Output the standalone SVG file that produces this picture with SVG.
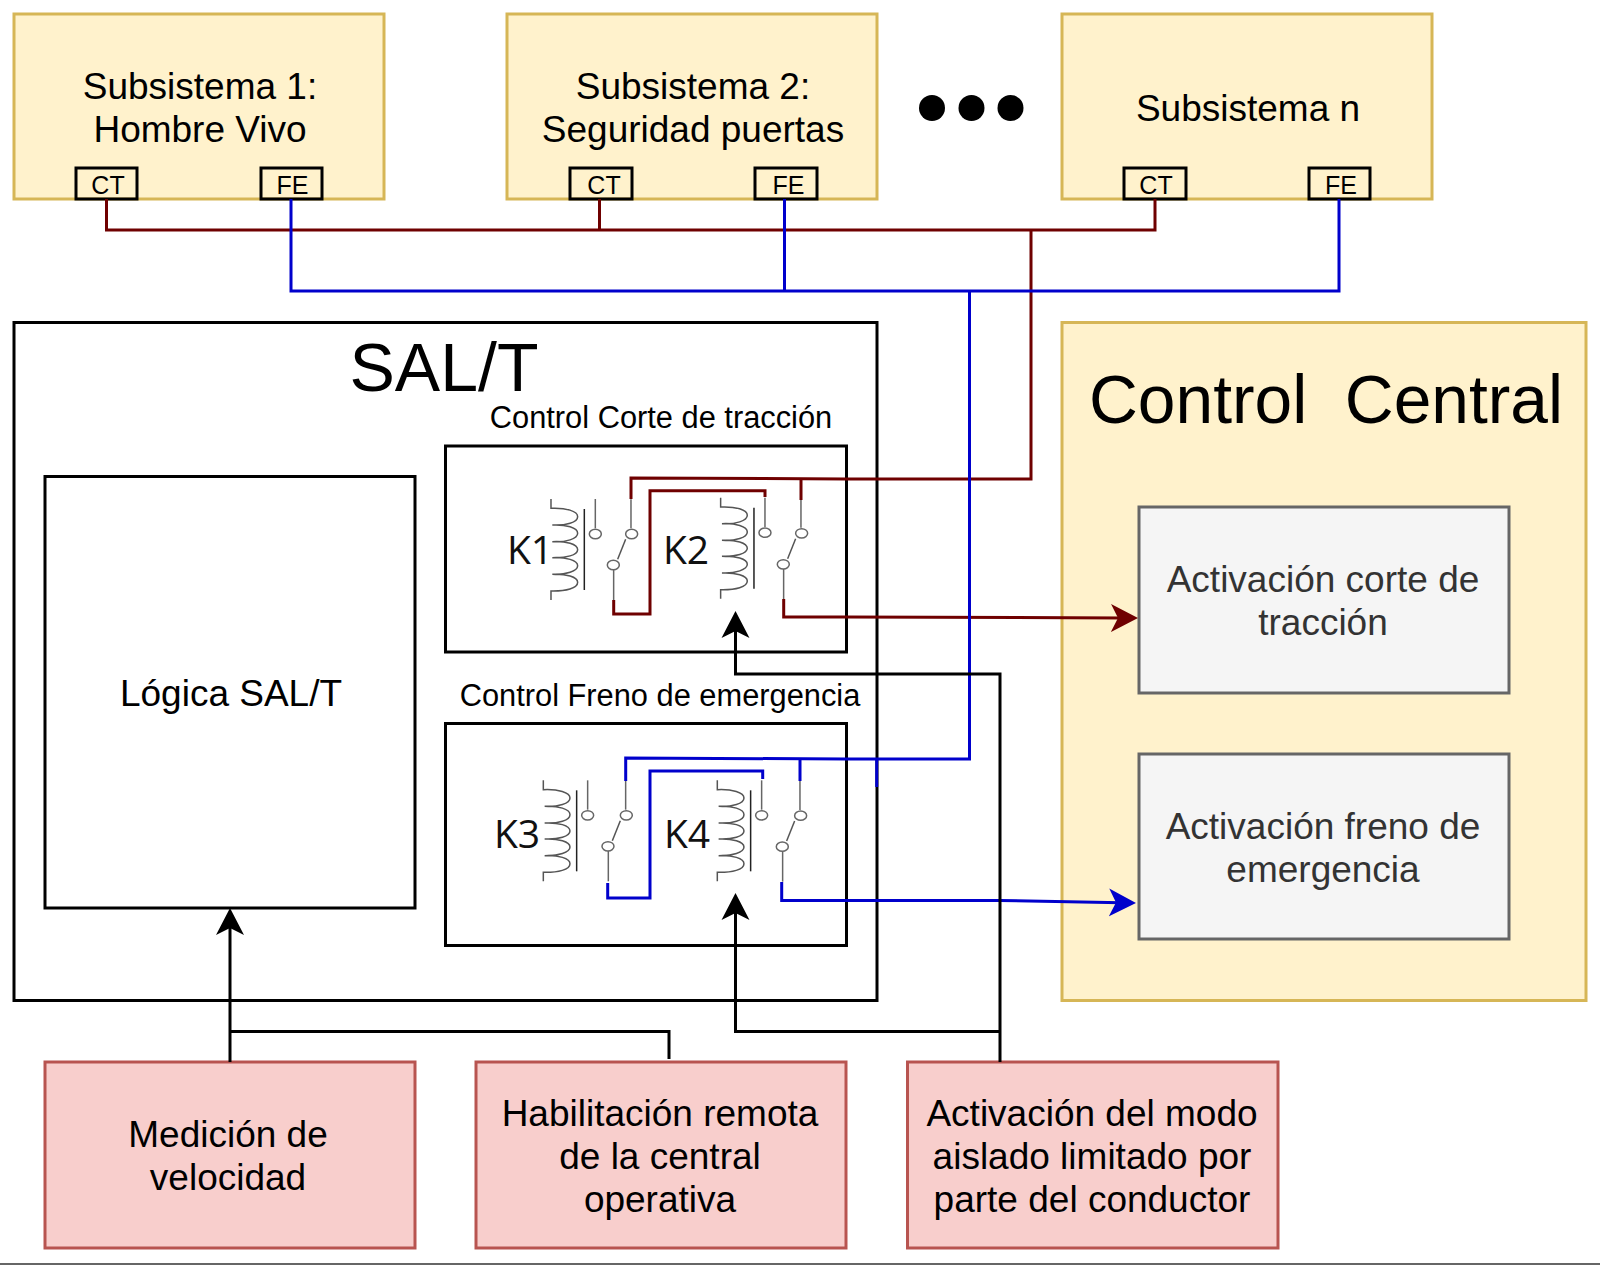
<svg xmlns="http://www.w3.org/2000/svg" xmlns:xlink="http://www.w3.org/1999/xlink" width="1600" height="1265" viewBox="0 0 1600 1265">
<style>
text{font-family:"Liberation Sans",Arial,sans-serif;text-anchor:middle;fill:#000}
.t{font-size:37px}
.s{font-size:30.800px}
.p{font-size:25px}
.g{fill:#333}
.y{fill:#fff2cc;stroke:#d6b656;stroke-width:3}
.r{fill:#f8cecc;stroke:#b85450;stroke-width:3}
.h{fill:#f5f5f5;stroke:#666;stroke-width:3}
.b{fill:#fff;stroke:#000;stroke-width:3}
.pt{fill:none;stroke:#000;stroke-width:3}
.w{fill:none;stroke-width:3;stroke-linejoin:miter}
.dr{stroke:#6f0000}
.bl{stroke:#0000cc}
.k{stroke:#000}
.sym{fill:none;stroke:#666;stroke-width:4.500}
.kl{font-family:"Open Sans","Noto Sans",sans-serif;font-size:39px;fill:#111}
</style>
<defs>
<marker id="ak" markerUnits="userSpaceOnUse" markerWidth="28" markerHeight="30" refX="12" refY="14" orient="auto" viewBox="0 0 28 28"><path d="M27 14L0 0L7 14L0 28Z" fill="#000"/></marker>
<marker id="ar" markerUnits="userSpaceOnUse" markerWidth="28" markerHeight="30" refX="12" refY="14" orient="auto" viewBox="0 0 28 28"><path d="M27 14L0 0L7 14L0 28Z" fill="#6f0000"/></marker>
<marker id="ab" markerUnits="userSpaceOnUse" markerWidth="28" markerHeight="30" refX="12" refY="14" orient="auto" viewBox="0 0 28 28"><path d="M27 14L0 0L7 14L0 28Z" fill="#0000cc"/></marker>
<g id="coil" class="sym">
<path d="M0 0V28C45 26 80 36 80 53C80 70 45 80 4 78C45 76 80 86 80 103C80 120 45 130 4 128C45 126 80 135 80 152C80 168 45 178 4 176C45 174 80 184 80 200C80 216 45 228 4 226C45 224 80 234 80 250C80 268 45 277 0 276V303" stroke="#555"/>
<path d="M100 30V273" stroke="#222"/>
<path d="M133 0V88"/>
<ellipse cx="133" cy="105" rx="18" ry="14"/>
</g>
<g id="contact" class="sym">
<path d="M0 0V87"/>
<ellipse cx="2" cy="104" rx="18" ry="14"/>
<path d="M-16 120L-40 180" stroke="#555"/>
<ellipse cx="-53" cy="197" rx="18" ry="14"/>
<path d="M-52 211V302"/>
</g>
</defs>
<rect width="1600" height="1265" fill="#fff"/>
<path d="M0 1264H1600" stroke="#666" stroke-width="2"/>

<g id="subsistema1"><rect class="y" x="14" y="14" width="370" height="185"/><text class="t" x="200" y="99">Subsistema 1:</text><text class="t" x="200" y="142">Hombre Vivo</text>
<rect class="pt" x="76" y="168" width="61" height="31"/><text class="p" x="108" y="194">CT</text><rect class="pt" x="261" y="168" width="61" height="31"/><text class="p" x="292.500" y="194">FE</text></g>
<g id="subsistema2"><rect class="y" x="507" y="14" width="370" height="185"/><text class="t" x="693" y="99">Subsistema 2:</text><text class="t" x="693" y="142">Seguridad puertas</text>
<rect class="pt" x="570" y="168" width="62" height="31"/><text class="p" x="604" y="194">CT</text><rect class="pt" x="755" y="168" width="62" height="31"/><text class="p" x="788.500" y="194">FE</text></g>
<g id="puntos"><circle cx="932" cy="108" r="13"/><circle cx="971.500" cy="108" r="13"/><circle cx="1010.500" cy="108" r="13"/></g>
<g id="subsisteman"><rect class="y" x="1062" y="14" width="370" height="185"/><text class="t" x="1248" y="120.500">Subsistema n</text>
<rect class="pt" x="1124" y="168" width="62" height="31"/><text class="p" x="1156" y="194">CT</text><rect class="pt" x="1309" y="168" width="61" height="31"/><text class="p" x="1341" y="194">FE</text></g>

<g id="salt"><rect class="b" x="14" y="322.500" width="863" height="678"/><text x="444" y="391" font-size="68">SAL/T</text></g>
<g id="logica"><rect class="b" x="45" y="476.500" width="370" height="431.500"/><text class="t" x="231" y="706">Lógica SAL/T</text></g>
<g id="control-corte"><text class="s" x="661" y="428">Control Corte de tracción</text><rect class="b" x="445.500" y="446" width="401" height="206"/>
<g transform="translate(440 440) scale(.3333)"><use xlink:href="#coil" href="#coil" x="333" y="177"/><use xlink:href="#contact" href="#contact" x="573" y="178"/><use xlink:href="#coil" href="#coil" x="842" y="173"/><use xlink:href="#contact" href="#contact" x="1083" y="176"/></g>
<text class="kl" x="530" y="564">K1</text><text class="kl" x="686" y="564">K2</text></g>
<g id="control-freno"><text class="s" x="660" y="706">Control Freno de emergencia</text><rect class="b" x="445.500" y="723.500" width="401" height="222"/>
<g transform="translate(440 720) scale(.3333)"><use xlink:href="#coil" href="#coil" x="310" y="181"/><use xlink:href="#contact" href="#contact" x="557" y="182"/><use xlink:href="#coil" href="#coil" x="832" y="181"/><use xlink:href="#contact" href="#contact" x="1080" y="183"/></g>
<text class="kl" x="517" y="848">K3</text><text class="kl" x="687" y="848">K4</text></g>

<g id="control-central"><rect class="y" x="1062" y="322.500" width="524" height="678"/><text x="1326" y="423" font-size="67.700" xml:space="preserve">Control  Central</text></g>
<g id="act-corte"><rect class="h" x="1139" y="507" width="370" height="186"/><text class="t g" x="1323" y="592">Activación corte de</text><text class="t g" x="1323" y="635">tracción</text></g>
<g id="act-freno"><rect class="h" x="1139" y="754" width="370" height="185"/><text class="t g" x="1323" y="839">Activación freno de</text><text class="t g" x="1323" y="882">emergencia</text></g>
<g id="medicion"><rect class="r" x="45" y="1062" width="370" height="186"/><text class="t" x="228" y="1147">Medición de</text><text class="t" x="228" y="1190">velocidad</text></g>
<g id="habilitacion"><rect class="r" x="476" y="1062" width="370" height="186"/><text class="t" x="660" y="1126">Habilitación remota</text><text class="t" x="660" y="1169">de la central</text><text class="t" x="660" y="1212">operativa</text></g>
<g id="activacion"><rect class="r" x="907.500" y="1062" width="370.500" height="186"/><text class="t" x="1092" y="1126">Activación del modo</text><text class="t" x="1092" y="1169">aislado limitado por</text><text class="t" x="1092" y="1212">parte del conductor</text></g>

<g id="conectores">
<path class="w dr" d="M106.500 199V230H1155V199M599.500 199V230M1031 230V479H846L631 478V499M801 478V500M765 497V490.700H650V614H613.700V600"/>
<path class="w dr" d="M783.700 599V617H846L1123 618" marker-end="url(#ar)"/>
<path class="w bl" d="M291 199V291H1339V199M784.500 199V291M969.500 291V759H846L625.700 758V781M800 758.500V781M762.700 779V771H650V898H607.700V883M876.700 759V787"/>
<path class="w bl" d="M781.700 882V900.500H1000L1121 902.700" marker-end="url(#ab)"/>
<path class="w k" d="M1000 1062V674H735.500V626" marker-end="url(#ak)"/>
<path class="w k" d="M1000 1031.500H735.500V908" marker-end="url(#ak)"/>
<path class="w k" d="M230 1062V923" marker-end="url(#ak)"/>
<path class="w k" d="M230 1031.500H669V1059"/>
</g>
</svg>
